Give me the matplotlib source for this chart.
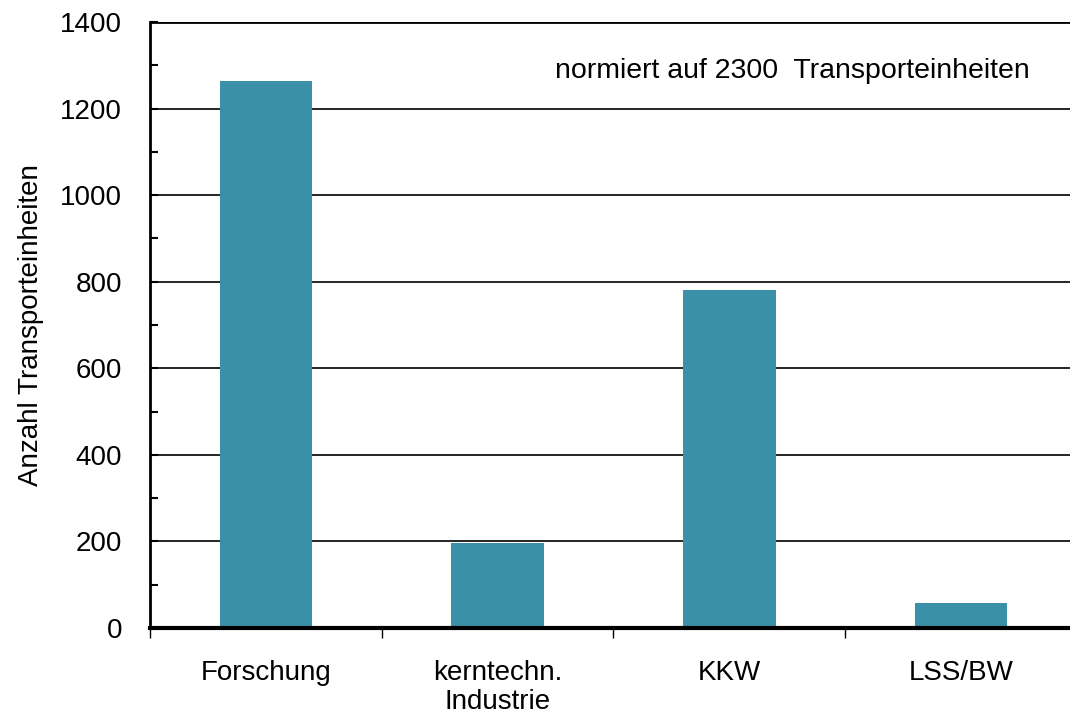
import matplotlib
matplotlib.use("Agg")
import matplotlib.pyplot as plt
from matplotlib.ticker import MultipleLocator

categories = ["Forschung", "kerntechn.\nIndustrie", "KKW", "LSS/BW"]
values = [1263, 197, 782, 58]
y_ticks = [0, 200, 400, 600, 800, 1000, 1200, 1400]

plt.rcParams['font.family'] = ['Liberation Sans', 'DejaVu Sans']

W, H = 1070, 716
fig = plt.figure(figsize=(W/100, H/100), dpi=100)
ax = fig.add_axes([150/W, (H-628)/H, (1077-150)/W, 606/H])

x = list(range(len(categories)))
ax.bar(x, values, width=0.4, color="#3A91A7", zorder=3)
ax.set_xlim(-0.5, len(categories) - 0.5)
ax.set_ylim(0, 1400)
ax.set_yticks(y_ticks)
ax.yaxis.set_minor_locator(MultipleLocator(100))
for t in y_ticks[1:]:
    ax.axhline(t, color="black", lw=1.2 if t < 1400 else 2.0, zorder=1)

ax.set_xticks([i - 0.5 for i in range(len(categories) + 1)])
ax.set_xticklabels([])
ax.set_xticks(x, minor=True)
ax.set_xticklabels(categories, minor=True, fontsize=20, linespacing=1.15)
ax.tick_params(axis='x', which='minor', length=0, pad=23)
ax.tick_params(axis='x', which='major', direction='out', length=7, width=1)
ax.tick_params(axis='y', which='both', direction='in', length=6, width=1.5,
               labelsize=20, pad=20)

for s in ['top', 'right']:
    ax.spines[s].set_visible(False)
ax.spines['left'].set_linewidth(2)
ax.spines['bottom'].set_linewidth(3)
ax.spines['bottom'].set_zorder(4)

ax.set_ylabel("Anzahl Transporteinheiten", fontsize=20, labelpad=12)
fig.text(555/W, 1 - 71/H, "normiert auf 2300  Transporteinheiten", fontsize=20.5,
         va='center', ha='left')

fig.savefig("out.png", dpi=100)
